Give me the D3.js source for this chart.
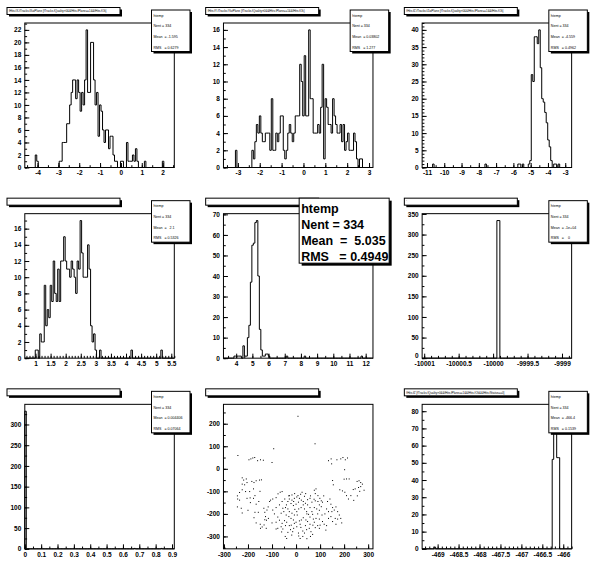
<!DOCTYPE html>
<html>
<head>
<meta charset="utf-8">
<script src="https://cdn.jsdelivr.net/npm/d3@7"></script>
<style>
  body { margin: 0; background: #fff; }
  svg text { font-family: "Liberation Sans", Arial, sans-serif; }
</style>
</head>
<body>
<div id="chart"></div>
<script>
// ---- pad 1 ----
var h1Range = [-4.61, 2.56];
var h1Bins = [
  0, 0, 0, 0, 0, 0, 0, 2, 1, 0,
  0, 0, 0, 0, 0, 0, 0, 0, 0, 0,
  0, 0, 0, 1, 1, 4, 4, 4, 7, 7,
  10, 12, 14, 14, 11, 14, 12, 9, 12, 10,
  14, 22, 12, 12, 20, 20, 14, 10, 12, 5,
  10, 9, 6, 4, 6, 6, 3, 5, 5, 2,
  1, 1, 0, 0, 1, 1, 0, 0, 4, 1,
  1, 1, 2, 1, 3, 1, 0, 0, 0, 0,
  1, 0, 0, 0, 0, 0, 0, 0, 0, 0,
  0, 0, 1, 0, 0, 0, 0, 0, 0, 0
];
var h1XTicks = [-4, -3, -2, -1, 0, 1, 2];
var h1YTicks = [0, 2, 4, 6, 8, 10, 12, 14, 16, 18, 20, 22];
var h1Stats = ['htemp', 'Nent = 334', 'Mean  = -1.595', 'RMS   = 0.6279'];

// ---- pad 2 ----
var h2Range = [-3.66, 3.18];
var h2Bins = [
  0, 0, 0, 0, 0, 0, 0, 0, 2, 0,
  0, 0, 0, 0, 0, 0, 0, 0, 0, 2,
  1, 3, 5, 4, 6, 4, 3, 3, 4, 4,
  4, 2, 8, 2, 2, 4, 3, 4, 6, 6,
  2, 1, 2, 4, 5, 4, 3, 4, 6, 6,
  6, 12, 10, 6, 13, 6, 6, 16, 8, 8,
  4, 4, 4, 5, 4, 7, 12, 1, 8, 7,
  5, 5, 4, 8, 6, 5, 4, 4, 5, 3,
  5, 2, 3, 4, 2, 2, 2, 4, 3, 1,
  0, 1, 1, 0, 0, 0, 0, 0, 0, 0
];
var h2XTicks = [-3, -2, -1, 0, 1, 2, 3];
var h2YTicks = [0, 2, 4, 6, 8, 10, 12, 14, 16];
var h2Stats = ['htemp', 'Nent = 334', 'Mean  = 0.03802', 'RMS   = 1.277'];

// ---- pad 3 ----
var h3Range = [-11.28, -2.63];
var h3Bins = [
  0, 0, 0, 0, 0, 0, 0, 1, 0, 0,
  0, 0, 0, 0, 0, 0, 0, 0, 0, 0,
  0, 0, 0, 0, 0, 0, 0, 0, 0, 0,
  0, 0, 0, 0, 0, 0, 0, 0, 0, 0,
  0, 0, 1, 0, 0, 0, 0, 0, 0, 0,
  0, 0, 0, 0, 0, 0, 0, 0, 0, 0,
  0, 0, 0, 0, 1, 1, 0, 1, 0, 0,
  0, 1, 2, 27, 25, 38, 38, 36, 40, 29,
  20, 19, 16, 13, 8, 6, 2, 0, 1, 1,
  0, 1, 0, 0, 0, 0, 0, 0, 0, 0
];
var h3XTicks = [-11, -10, -9, -8, -7, -6, -5, -4, -3];
var h3YTicks = [0, 5, 10, 15, 20, 25, 30, 35, 40];
var h3Stats = ['htemp', 'Nent = 334', 'Mean  = -4.559', 'RMS   = 0.4962'];

// ---- pad 4 ----
var h4Range = [0.645, 5.6];
var h4Bins = [
  0, 0, 0, 0, 0, 0, 0, 1, 1, 0,
  3, 2, 2, 9, 4, 6, 5, 9, 7, 12,
  8, 7, 11, 7, 12, 12, 15, 12, 11, 11,
  10, 12, 11, 10, 8, 12, 11, 17, 13, 10,
  10, 10, 14, 11, 4, 2, 3, 1, 0, 0,
  1, 0, 0, 0, 0, 0, 0, 0, 0, 0,
  0, 0, 0, 0, 0, 0, 0, 0, 0, 0,
  0, 1, 0, 0, 0, 0, 0, 0, 0, 0,
  0, 0, 0, 0, 0, 0, 0, 0, 0, 0,
  0, 1, 0, 0, 0, 0, 0, 0, 0, 0
];
var h4XTicks = [1, 1.5, 2, 2.5, 3, 3.5, 4, 4.5, 5, 5.5];
var h4YTicks = [0, 2, 4, 6, 8, 10, 12, 14, 16];
var h4Stats = ['htemp', 'Nent = 334', 'Mean  =   2.1', 'RMS   = 0.5326'];

// ---- pad 5 ----
var h5Range = [3.215, 12.45];
var h5Bins = [
  0, 0, 0, 0, 0, 0, 0, 1, 1, 1,
  1, 1, 0, 6, 1, 1, 10, 16, 37, 55,
  56, 66, 67, 40, 14, 4, 1, 1, 2, 2,
  1, 0, 0, 0, 0, 0, 0, 0, 0, 0,
  0, 0, 1, 0, 0, 0, 0, 0, 0, 0,
  0, 0, 0, 0, 1, 0, 0, 0, 0, 0,
  0, 0, 0, 0, 0, 0, 0, 0, 0, 0,
  0, 0, 0, 0, 0, 0, 0, 0, 0, 0,
  0, 0, 0, 0, 0, 0, 0, 0, 0, 0,
  0, 0, 1, 0, 0, 0, 0, 0, 0, 0
];
var h5XTicks = [4, 5, 6, 7, 8, 9, 10, 11, 12];
var h5YTicks = [0, 10, 20, 30, 40, 50, 60, 70];
var h5Stats = ['htemp', 'Nent = 334', 'Mean  =  5.035', 'RMS   = 0.4949'];

// ---- pad 6 (50 bins) ----
var h6Range = [-10001.03, -9998.86];
var h6Bins = [
  0, 0, 0, 0, 0, 0, 0, 0, 0, 0,
  0, 0, 0, 0, 0, 0, 0, 0, 0, 0,
  0, 0, 0, 0, 0, 334, 0, 0, 0, 0,
  0, 0, 0, 0, 0, 0, 0, 0, 0, 0,
  0, 0, 0, 0, 0, 0, 0, 0, 0, 0
];
var h6XTicks = [-10001, -10000.5, -10000, -9999.5, -9999];
var h6YTicks = [0, 50, 100, 150, 200, 250, 300, 350];
var h6Stats = ['htemp', 'Nent = 334', 'Mean  = -1e+04', 'RMS   =    0'];

// ---- pad 7 ----
var h7Range = [0, 0.914];
var h7Bins = [
  332, 0, 0, 0, 0, 0, 0, 0, 0, 0,
  0, 0, 0, 0, 0, 0, 0, 0, 0, 0,
  0, 0, 0, 0, 0, 0, 0, 0, 0, 0,
  0, 0, 0, 0, 0, 0, 0, 0, 0, 0,
  0, 0, 0, 0, 0, 0, 0, 0, 0, 0,
  0, 0, 0, 0, 0, 0, 0, 0, 0, 0,
  0, 0, 0, 0, 0, 0, 0, 0, 0, 0,
  0, 0, 0, 1, 0, 0, 0, 0, 0, 0,
  0, 0, 0, 0, 0, 0, 0, 0, 0, 0,
  0, 1, 0, 0, 0, 0, 0, 0, 0, 0
];
var h7XTicks = [0, 0.1, 0.2, 0.3, 0.4, 0.5, 0.6, 0.7, 0.8, 0.9];
var h7YTicks = [0, 50, 100, 150, 200, 250, 300];
var h7Stats = ['htemp', 'Nent = 334', 'Mean  = 0.004406', 'RMS   = 0.07064'];

// ---- pad 8 (scatter) ----
var s8XRange = [-302, 320];
var s8YRange = [-355, 286];
var s8X = [
  8, 79, -93, -242, -100,
  -196, -188, -180, -172, -160, -148, -136,
  135, 146, 148, 170, 186, 195, 205, 214, 202,
  -224, -218, -207, -224, -214, -204, -184, -175, -166, -152, -144, -177, -193, -210, -224,
  -244, -243, -235, -244, -228, -224, -200, -204, -191, -177, -171, -166, -155, -171, -157,
  -175, -166, -149, -141, -148, -130, -123, -127, -130, -121, -134, -116, -110, -106, -97,
  -83, -75, -66, -58, -115, -133, -124,
  152, 155, 182, 193, 203, 210, 218, 228, 238, 246, 254, 262, 269, 276, 283, 200, 210, 221,
  260, 269, 145, 152, 159, 149, 166, 173, 180, 186, 173, 163, 145, 135, 152, 166, 190, 127,
  124, 131, 110, 105, 135,
  -83, -76, -55, -48, -39, -58, -44, -34, -39, -23, -18, -10, -14, 3, 11, 17, 28, 35, 44, 55,
  62, 69, 80, 90, 97, 58, 48, 41, 30, 22, 14, 0, -11, -21, -30, -41, -51, -55, -44, -34,
  -28, -17, -7, 3, 11, 21, 35, 44, 52, 58, 66, 58, 48, 39, 30, 22, 14, 3, -7, -17,
  -28, -34, -21, -11, 0, 10, 19, 25, -28, -17, -6, 8, 76, 83, 80, 91, 99, 80, 91, 105,
  97, 86, 97, 108, 97, 83, 72, 76, 110, 117, -47, -58, -69, -83, -97, -62, -76, -69, -83, -62,
  -28, 28, 39, 17, -7, 69, 76, 48, 58, 35, 66, 127, 141,
  -40, -30, 60, 45, 20, -20, 5, 30, -5, 70, 100, 120, -90, -100, -60, -45, 10, 45, 60, 90,
  115, -150, -190, -235, 255, 240, 265, -10, 40, 75
];
var s8Y = [
  233, 111, 89, 59, 28,
  40, 44, 48, 50, 36, 40, 38,
  36, 44, 22, 40, 44, 50, 40, 48, -4,
  -40, -50, -45, -68, -71, -61, -56, -61, -53, -50, -49, -89, -101, -101, -93,
  -120, -134, -139, -169, -175, -196, -184, -131, -129, -131, -119, -157, -145, -193, -193,
  -217, -240, -246, -258, -264, -226, -228, -212, -193, -183, -175, -169, -145, -139, -134,
  -128, -111, -104, -101, -220, -249, -264,
  -52, -71, -93, -98, -104, -119, -134, -119, -92, -89, -56, -53, -61, -68, -95, -46, -45, -45,
  -83, -79, -157, -172, -183, -190, -169, -190, -205, -220, -223, -220, -212, -220, -234, -246, -240, -252,
  -272, -145, -148, -168, -190,
  -267, -264, -267, -230, -237, -242, -252, -282, -309, -270, -294, -264, -279, -257, -298, -309, -300, -285, -270, -264,
  -279, -291, -261, -252, -264, -246, -234, -227, -217, -227, -231, -237, -227, -220, -212, -205, -190, -175, -172, -178,
  -190, -197, -205, -190, -178, -172, -178, -190, -202, -214, -190, -172, -160, -153, -145, -139, -131, -125, -131, -139,
  -134, -145, -154, -163, -157, -148, -113, -104, -119, -116, -110, -119, -95, -89, -110, -119, -131, -142, -145, -142,
  -160, -178, -184, -205, -223, -220, -223, -237, -234, -246, -134, -145, -160, -172, -183, -197, -214, -228, -237, -257,
  -252, -276, -252, -246, -242, -202, -172, -137, -131, -122, -148, -178, -134,
  -160, -120, -120, -200, -260, -250, -205, -160, -180, -250, -250, -200, -200, -240, -280, -300, -285, -310, -300, -200,
  -120, -100, -150, -105, -120, -140, -100, -145, -110, -135
];
var s8XTicks = [-300, -200, -100, 0, 100, 200, 300];
var s8YTicks = [-300, -200, -100, 0, 100, 200];

// ---- pad 9 ----
var h9Range = [-469.37, -465.8];
var h9Bins = [
  0, 0, 0, 0, 0, 0, 0, 0, 1, 0,
  0, 0, 0, 0, 0, 0, 0, 0, 0, 0,
  0, 0, 0, 0, 0, 0, 0, 0, 0, 0,
  0, 0, 0, 0, 0, 0, 0, 0, 0, 0,
  0, 0, 0, 0, 0, 0, 0, 0, 0, 0,
  0, 0, 0, 0, 0, 0, 0, 0, 0, 0,
  0, 0, 0, 0, 0, 0, 0, 0, 0, 0,
  0, 0, 0, 0, 0, 0, 0, 0, 0, 0,
  0, 0, 0, 0, 0, 0, 0, 52, 80, 76,
  53, 53, 0, 0, 0, 0, 0, 0, 0, 0
];
var h9XTicks = [-469, -468.5, -468, -467.5, -467, -466.5, -466];
var h9YTicks = [0, 10, 20, 30, 40, 50, 60, 70, 80];
var h9Stats = ['htemp', 'Nent = 334', 'Mean  = -466.4', 'RMS   = 0.1539'];

var titles = [
  'fHits.fX-fTracks.fXatPlane {fTracks.fQuality>0&&fHits.fPlane==1&&fHits.fOk}',
  'fHits.fY-fTracks.fYatPlane {fTracks.fQuality>0&&fHits.fPlane==1&&fHits.fOk}',
  'fHits.fZ-fTracks.fZatPlane {fTracks.fQuality>0&&fHits.fPlane==1&&fHits.fOk}',
  "'",
  "'",
  "'",
  "'",
  "'",
  'fHits.fZ {fTracks.fQuality>0&&fHits.fPlane==1&&fHits.fOk&&fHits.fStatus==0}'
];

var padW = 596 / 3, padH = 572 / 3;
var fx0 = 24.8, fx1 = 174.3, fy0 = 23, fy1 = 167.5;

var svg = d3.select('#chart')
            .append('svg')
            .attr('width', 596)
            .attr('height', 572)
            .style('display', 'block')
            .style('background', '#fff');

function getPad(col, row) {
    return svg.append('g')
              .attr('transform', `translate(${col * padW},${row * padH})`);
}

function minorValues(domain, step) {
    var lo = Math.min(domain[0], domain[1]);
    var hi = Math.max(domain[0], domain[1]);
    return d3.range(Math.ceil(lo / step - 1e-6), Math.floor(hi / step + 1e-6) + 1)
             .map(k => +(k * step).toFixed(6));
}

function styleAxis(g) {
    g.select('.domain').remove();
    g.attr('font-size', 6.5)
     .attr('font-weight', 'bold')
     .attr('font-family', '"Liberation Sans", Arial, sans-serif');
}

function dropText(g) {
    g.selectAll('text').remove();
}

function drawAxes(g, x, y, xTicks, xMinor, yTicks, yMinor, zeroLift) {
    g.append('g')
     .attr('transform', `translate(0,${fy1})`)
     .call(d3.axisBottom(x).tickValues(minorValues(x.domain(), xMinor)).tickSize(-2.3))
     .call(styleAxis)
     .call(dropText);
    g.append('g')
     .attr('transform', `translate(0,${fy1})`)
     .call(d3.axisBottom(x).tickValues(xTicks).tickSize(-4.5).tickPadding(3.2).tickFormat(d => String(d)))
     .call(styleAxis);
    g.append('g')
     .attr('transform', `translate(${fx0},0)`)
     .call(d3.axisLeft(y).tickValues(minorValues(y.domain(), yMinor)).tickSize(-2.3))
     .call(styleAxis)
     .call(dropText);
    var ya = g.append('g')
     .attr('transform', `translate(${fx0},0)`)
     .call(d3.axisLeft(y).tickValues(yTicks).tickSize(-4.5).tickPadding(3.5).tickFormat(d => String(d)))
     .call(styleAxis);
    if (zeroLift) {
        ya.selectAll('.tick')
          .filter(d => d === 0)
          .select('text')
          .attr('y', -zeroLift);
    }
}

function drawFrame(g) {
    g.append('rect')
     .attr('x', fx0)
     .attr('y', fy0)
     .attr('width', fx1 - fx0)
     .attr('height', fy1 - fy0)
     .attr('fill', 'none')
     .attr('stroke', '#000')
     .attr('stroke-width', 1);
}

function titleBox(g, text) {
    g.append('rect').attr('x', 9).attr('y', 9.5).attr('width', 113).attr('height', 7).attr('fill', '#000');
    g.append('rect').attr('x', 7).attr('y', 7.5).attr('width', 113).attr('height', 7)
     .attr('fill', '#fff').attr('stroke', '#000').attr('stroke-width', 1);
    g.append('text')
     .attr('x', 9)
     .attr('y', 12.3)
     .attr('font-size', 2.9)
     .text(text);
}

function statBox(g, lines) {
    g.append('rect').attr('x', 153.5).attr('y', 12).attr('width', 38.5).attr('height', 41.5).attr('fill', '#000');
    g.append('rect').attr('x', 151.5).attr('y', 10).attr('width', 38.5).attr('height', 41.5)
     .attr('fill', '#fff').attr('stroke', '#000').attr('stroke-width', 1);
    g.selectAll('.stat')
     .data(lines)
     .enter()
     .append('text')
     .attr('class', 'stat')
     .attr('x', 153.5)
     .attr('y', (d, i) => 16.5 + 10.7 * i)
     .attr('font-size', 3.6)
     .style('white-space', 'pre')
     .text(d => d);
}

function bigStatBox(g, lines) {
    g.append('rect').attr('x', 103).attr('y', 10).attr('width', 90).attr('height', 65).attr('fill', '#000');
    g.append('rect').attr('x', 100.5).attr('y', 7.5).attr('width', 90).attr('height', 65)
     .attr('fill', '#fff').attr('stroke', '#000').attr('stroke-width', 1);
    g.selectAll('.bigstat')
     .data(lines)
     .enter()
     .append('text')
     .attr('class', 'bigstat')
     .attr('x', 102.5)
     .attr('y', (d, i) => 22.3 + 16 * i)
     .attr('font-size', 12.5)
     .attr('font-weight', 'bold')
     .style('white-space', 'pre')
     .text(d => d);
}

function histPath(bins, range, x, y) {
    var w = (range[1] - range[0]) / bins.length;
    var p = d3.path();
    p.moveTo(x(range[0]), y(0));
    bins.forEach((c, i) => {
        p.lineTo(x(range[0] + i * w), y(c));
        p.lineTo(x(range[0] + (i + 1) * w), y(c));
    });
    p.lineTo(x(range[1]), y(0));
    return p.toString();
}

function drawHist(col, row, h) {
    var g = getPad(col, row);
    var x = d3.scaleLinear().domain(h.range).range([fx0, fx1]);
    var y = d3.scaleLinear().domain([0, d3.max(h.bins) * 1.05]).range([fy1, fy0]);

    drawFrame(g);
    g.append('path')
     .attr('d', histPath(h.bins, h.range, x, y))
     .attr('fill', 'none')
     .attr('stroke', '#000')
     .attr('stroke-width', 1);
    drawAxes(g, x, y, h.xTicks, h.xMinor, h.yTicks, h.yMinor, h.zeroLift);
    titleBox(g, h.title);
    if (h.big) {
        bigStatBox(g, h.stats);
    } else {
        statBox(g, h.stats);
    }
}

function drawScatter(col, row) {
    var g = getPad(col, row);
    var x = d3.scaleLinear().domain(s8XRange).range([fx0, fx1]);
    var y = d3.scaleLinear().domain(s8YRange).range([fy1, fy0]);

    drawFrame(g);
    g.selectAll('.dot')
     .data(s8X.map((v, i) => [v, s8Y[i]]))
     .enter()
     .append('rect')
     .attr('class', 'dot')
     .attr('x', d => x(d[0]) - 0.5)
     .attr('y', d => y(d[1]) - 0.5)
     .attr('width', 1)
     .attr('height', 1)
     .attr('fill', '#000');
    drawAxes(g, x, y, s8XTicks, 50, s8YTicks, 50);
    titleBox(g, titles[7]);
}

drawHist(0, 0, {range: h1Range, bins: h1Bins, xTicks: h1XTicks, xMinor: 0.5, yTicks: h1YTicks, yMinor: 1, stats: h1Stats, title: titles[0]});
drawHist(1, 0, {range: h2Range, bins: h2Bins, xTicks: h2XTicks, xMinor: 0.5, yTicks: h2YTicks, yMinor: 1, stats: h2Stats, title: titles[1]});
drawHist(2, 0, {range: h3Range, bins: h3Bins, xTicks: h3XTicks, xMinor: 0.5, yTicks: h3YTicks, yMinor: 1, stats: h3Stats, title: titles[2]});
drawHist(0, 1, {range: h4Range, bins: h4Bins, xTicks: h4XTicks, xMinor: 0.1, yTicks: h4YTicks, yMinor: 1, stats: h4Stats, title: titles[3]});
drawHist(1, 1, {range: h5Range, bins: h5Bins, xTicks: h5XTicks, xMinor: 0.5, yTicks: h5YTicks, yMinor: 5, stats: h5Stats, title: titles[4], big: true});
drawHist(2, 1, {range: h6Range, bins: h6Bins, xTicks: h6XTicks, xMinor: 0.1, yTicks: h6YTicks, yMinor: 25, stats: h6Stats, title: titles[5], zeroLift: 2.5});
drawHist(0, 2, {range: h7Range, bins: h7Bins, xTicks: h7XTicks, xMinor: 0.05, yTicks: h7YTicks, yMinor: 25, stats: h7Stats, title: titles[6]});
drawScatter(1, 2);
drawHist(2, 2, {range: h9Range, bins: h9Bins, xTicks: h9XTicks, xMinor: 0.1, yTicks: h9YTicks, yMinor: 5, stats: h9Stats, title: titles[8]});
</script>
</body>
</html>
